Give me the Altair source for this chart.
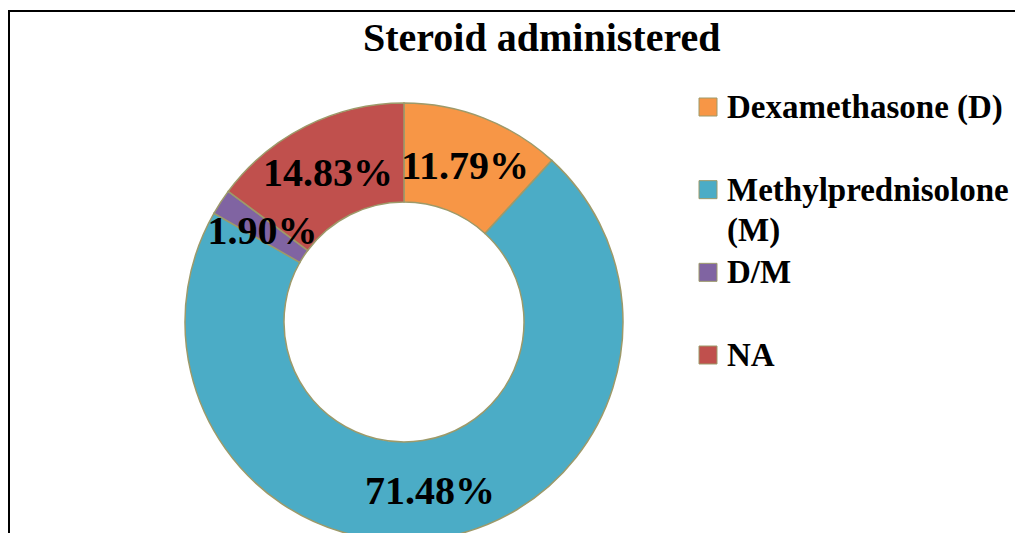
import altair as alt
import pandas as pd

names = ["Dexamethasone (D)", "Methylprednisolone (M)", "D/M", "NA"]
legend_text = ["Dexamethasone (D)", "Methylprednisolone|(M)", "D/M", "NA"]
values = [11.79, 71.48, 1.90, 14.83]
labels = ["11.79%", "71.48%", "1.90%", "14.83%"]
colors = ["#F79646", "#4BACC6", "#8064A2", "#C0504D"]
order = [0, 1, 2, 3]

df = pd.DataFrame(
    {"name": names, "legend": legend_text, "value": values, "label": labels, "order": order}
)

FONT = "Liberation Serif"
CX, CY = 396, 314
color = alt.Color("name:N", scale=alt.Scale(domain=names, range=colors), sort=names)

base = alt.Chart(df).encode(
    theta=alt.Theta("value:Q", stack=True),
    order=alt.Order("order:Q"),
)

arc = base.mark_arc(
    outerRadius=219, innerRadius=120, stroke="#9D9A6A", strokeWidth=1.5, x=CX, y=CY
).encode(color=color)

text = base.mark_text(
    radius=169, x=CX, y=CY, dy=3, font=FONT, fontSize=40, fontWeight="bold", color="black"
).encode(text="label:N")

ly = alt.Y(
    "name:N",
    sort=names,
    axis=None,
    scale=alt.Scale(type="point", range=[99, 347], padding=0),
)
leg_sym = alt.Chart(df).mark_square(
    size=324, opacity=1, stroke="#9D9A6A", strokeWidth=1, x=700
).encode(y=ly, color=color)
leg_txt = alt.Chart(df).mark_text(
    align="left",
    baseline="middle",
    x=719,
    dy=1,
    font=FONT,
    fontSize=33,
    fontWeight="bold",
    color="black",
    lineBreak="|",
    lineHeight=40,
).encode(y=ly, text="legend:N")

frame = alt.Chart(alt.Data(values=[{"f": 1}])).mark_rect(
    fill="white", fillOpacity=0, stroke="black", strokeWidth=2
).encode(
    x=alt.value(1), x2=alt.value(1300), y=alt.value(3), y2=alt.value(800)
)

chart = alt.layer(frame, arc, text, leg_sym, leg_txt).properties(
    width=1007,
    height=525,
    autosize=alt.AutoSizeParams(type="none"),
    padding=0,
    title=alt.Title(
        "Steroid administered",
        font=FONT,
        fontSize=40,
        fontWeight="bold",
        color="black",
        anchor="start",
        offset=-51,
        dx=355,
    ),
).configure_view(strokeWidth=0).configure_legend(disable=True)

chart.save("out.html", embed_options={"renderer": "svg", "actions": False})
